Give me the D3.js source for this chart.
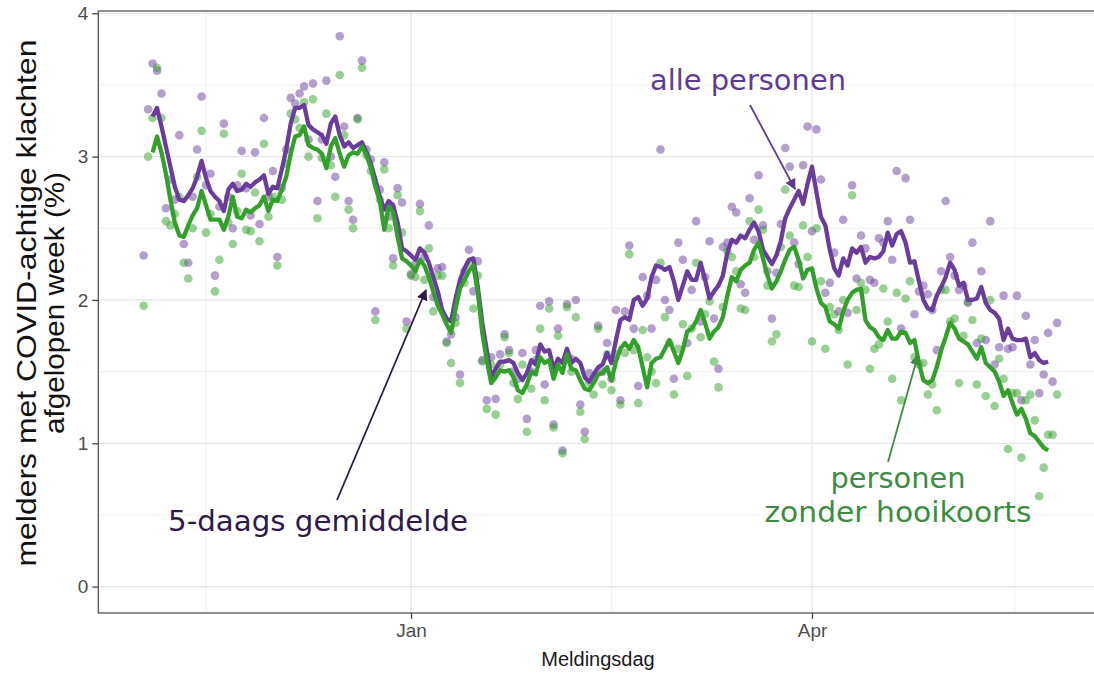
<!DOCTYPE html>
<html>
<head>
<meta charset="utf-8">
<script src="https://cdn.jsdelivr.net/npm/d3@7"></script>
<style>
  body { margin: 0; background: #fff; }
</style>
</head>
<body>
<div id="chart"></div>
<script>

// first day with data, one value per day after that
const startDate = Date.UTC(2020, 10, 2);

// daily values, all persons (purple)
const allePunten = [
  2.31, 3.33, 3.65, 3.60, 3.44, 2.64, 2.84, 2.70, 3.15, 2.39,
  2.26, 2.72, 3.05, 3.42, 2.80, 2.88, 2.17, 2.65, 3.23, 2.72,
  2.50, 2.80, 3.04, 2.78, 2.59, 3.03, 2.53, 3.27, 2.72, 2.90,
  2.30, 2.78, 3.05, 3.41, 3.37, 3.44, 3.49, 3.12, 3.51, 2.69,
  3.12, 3.53, 3.00, 2.86, 3.84, 3.21, 2.69, 2.56, 3.27, 3.67,
  3.05, 2.98, 1.92, 2.77, 2.96, 2.58, 2.29, 2.78, 2.68, 1.85,
  2.18, 2.25, 2.67, 2.30, 2.52, 2.02, 2.22, 2.23, 1.71, 1.76,
  1.88, 1.48, 2.20, 2.35, 2.06, 2.27, 1.58, 1.30, 1.60, 1.31,
  1.62, 1.76, 1.65, 1.50, 1.45, 1.63, 1.17, 1.50, 1.65, 1.96,
  1.41, 1.99, 1.13, 1.80, 0.95, 1.97, 1.59, 2.00, 1.27, 1.08,
  1.49, 1.45, 1.82, 1.50, 1.70, 1.45, 1.93, 1.30, 1.92, 2.38,
  1.80, 1.40, 2.16, 2.03, 1.80, 2.14, 3.05, 2.00, 1.93, 1.45,
  2.40, 2.28, 1.70, 2.07, 2.55, 1.85, 2.16, 2.41, 1.87, 1.52,
  2.37, 2.40, 2.65, 2.61, 2.11, 2.05, 2.71, 2.42, 2.87, 2.52,
  2.20, 1.87, 2.19, 2.53, 3.06, 2.93, 2.40, 2.25, 2.94, 3.21,
  2.48, 3.19, 2.84, 2.05, 2.12, 2.33, 1.92, 2.56, 1.91, 2.80,
  2.15, 2.45, 2.36, 2.14, 2.12, 2.43, 2.40, 2.55, 2.28, 2.90,
  1.80, 2.85, 2.56, 1.90, 2.06, 2.10, 2.04, 1.93, 1.65, 2.20,
  2.69, 2.30, 2.17, 2.07, 2.10, 1.98, 2.40, 1.70, 2.20, 1.72,
  2.55, 1.55, 1.67, 2.03, 1.66, 1.67, 2.03, 1.30, 1.89, 1.55,
  1.72, 1.35, 1.48, 1.77, 1.43, 1.84
];

// daily values, persons without hay fever (green)
const zonderPunten = [
  1.96, 3.00, 3.27, 3.62, 3.27, 2.55, 2.52, 2.60, 2.72, 2.26,
  2.15, 2.50, 2.86, 3.18, 2.47, 2.60, 2.06, 2.28, 3.16, 2.54,
  2.39, 2.62, 2.88, 2.49, 2.48, 2.75, 2.41, 3.09, 2.58, 2.72,
  2.24, 2.70, 2.95, 3.30, 3.26, 3.20, 3.38, 3.00, 3.40, 2.57,
  2.99, 3.30, 2.94, 2.72, 3.57, 3.15, 2.63, 2.50, 3.26, 3.62,
  3.01, 2.90, 1.86, 2.70, 2.91, 2.50, 2.24, 2.73, 2.47, 1.80,
  2.17, 2.16, 2.62, 2.14, 2.36, 1.92, 2.17, 2.17, 1.70, 1.56,
  1.84, 1.42, 2.12, 2.25, 1.94, 2.17, 1.57, 1.24, 1.55, 1.20,
  1.55, 1.74, 1.63, 1.42, 1.31, 1.55, 1.08, 1.38, 1.58, 1.80,
  1.30, 1.94, 1.11, 1.75, 0.93, 1.95, 1.50, 1.88, 1.22, 1.03,
  1.42, 1.34, 1.80, 1.41, 1.62, 1.37, 1.62, 1.27, 1.63, 2.32,
  1.65, 1.28, 1.79, 1.60, 1.50, 1.42, 2.26, 1.88, 1.70, 1.34,
  1.66, 1.83, 1.47, 1.80, 2.26, 1.74, 1.90, 1.99, 1.57, 1.39,
  1.95, 2.34, 2.30, 2.20, 1.94, 1.93, 2.55, 2.30, 2.63, 2.49,
  2.10, 1.71, 1.76, 2.37, 2.77, 2.45, 2.10, 2.09, 2.52, 2.30,
  1.71, 2.50, 2.13, 1.66, 1.95, 1.90, 1.79, 2.00, 1.55, 2.73,
  1.93, 2.12, 2.07, 1.52, 1.66, 1.69, 2.08, 1.85, 1.45, 2.05,
  1.30, 2.01, 2.13, 1.60, 1.55, 1.56, 1.34, 1.41, 1.23, 2.07,
  2.07, 1.85, 1.87, 1.42, 1.75, 1.99, 1.86, 1.41, 1.73, 1.33,
  2.00, 1.26, 1.59, 1.45, 0.96, 1.35, 1.35, 0.90, 1.30, 1.34,
  1.16, 0.63, 0.83, 1.06, 1.06, 1.34
];

// 5-day averages, centred, so they start on day index 2
const gemOffset = 2;
const alleGem = [
  3.28, 3.34, 3.21, 3.07, 2.93, 2.79, 2.70, 2.69, 2.73, 2.78,
  2.86, 2.97, 2.85, 2.76, 2.72, 2.69, 2.62, 2.77, 2.81, 2.76,
  2.77, 2.81, 2.79, 2.82, 2.84, 2.87, 2.74, 2.79, 2.78, 2.91,
  3.05, 3.23, 3.34, 3.34, 3.36, 3.22, 3.19, 3.17, 3.15, 3.09,
  3.23, 3.28, 3.15, 3.07, 3.10, 3.06, 3.08, 3.10, 3.03, 2.95,
  2.84, 2.72, 2.63, 2.69, 2.66, 2.54, 2.36, 2.34, 2.31, 2.28,
  2.36, 2.33, 2.26, 2.16, 2.06, 1.93, 1.87, 1.85, 2.01, 2.14,
  2.22, 2.28, 2.29, 2.09, 1.84, 1.65, 1.46, 1.52, 1.57, 1.57,
  1.58, 1.56, 1.49, 1.44, 1.49, 1.58, 1.55, 1.69, 1.64, 1.65,
  1.52, 1.59, 1.56, 1.66, 1.56, 1.59, 1.56, 1.46, 1.43, 1.48,
  1.53, 1.55, 1.63, 1.56, 1.72, 1.86, 1.88, 1.86, 2.00, 2.02,
  1.96, 2.01, 2.16, 2.24, 2.23, 2.21, 2.23, 2.13, 2.00, 2.10,
  2.20, 2.14, 2.14, 2.26, 2.14, 2.01, 2.06, 2.10, 2.17, 2.33,
  2.42, 2.40, 2.45, 2.43, 2.49, 2.54, 2.48, 2.35, 2.30, 2.25,
  2.31, 2.41, 2.57, 2.64, 2.70, 2.76, 2.67, 2.81, 2.93, 2.75,
  2.58, 2.52, 2.35, 2.22, 2.17, 2.29, 2.24, 2.36, 2.33, 2.37,
  2.26, 2.30, 2.29, 2.30, 2.34, 2.47, 2.38, 2.46, 2.48, 2.40,
  2.26, 2.27, 2.13, 2.00, 1.94, 1.93, 2.03, 2.09, 2.16, 2.26,
  2.21, 2.10, 2.12, 2.00, 2.00, 2.01, 2.09, 1.98, 1.93, 1.91,
  1.87, 1.72, 1.80, 1.73, 1.72, 1.72, 1.73, 1.60, 1.63, 1.58,
  1.56, 1.57
];
const zonderGem = [
  3.03, 3.14, 3.03, 2.88, 2.70, 2.54, 2.45, 2.44, 2.52, 2.59,
  2.64, 2.76, 2.66, 2.56, 2.56, 2.56, 2.49, 2.58, 2.72, 2.58,
  2.57, 2.63, 2.61, 2.64, 2.66, 2.72, 2.62, 2.70, 2.69, 2.77,
  2.86, 3.02, 3.14, 3.15, 3.21, 3.08, 3.06, 3.05, 3.02, 2.92,
  3.07, 3.13, 3.02, 2.93, 3.01, 3.03, 3.02, 3.07, 3.01, 2.92,
  2.79, 2.69, 2.49, 2.65, 2.61, 2.44, 2.29, 2.27, 2.24, 2.20,
  2.28, 2.24, 2.16, 2.06, 1.96, 1.90, 1.83, 1.77, 1.94, 2.08,
  2.14, 2.20, 2.24, 2.05, 1.77, 1.58, 1.42, 1.46, 1.51, 1.50,
  1.51, 1.46, 1.37, 1.35, 1.41, 1.50, 1.48, 1.60, 1.56, 1.58,
  1.45, 1.55, 1.49, 1.62, 1.52, 1.51, 1.44, 1.38, 1.37, 1.42,
  1.48, 1.49, 1.53, 1.44, 1.57, 1.66, 1.70, 1.66, 1.72, 1.67,
  1.53, 1.39, 1.56, 1.59, 1.60, 1.66, 1.72, 1.64, 1.56, 1.65,
  1.78, 1.80, 1.85, 1.93, 1.84, 1.73, 1.78, 1.81, 1.88, 2.03,
  2.16, 2.13, 2.21, 2.24, 2.26, 2.35, 2.40, 2.29, 2.17, 2.08,
  2.13, 2.20, 2.28, 2.35, 2.37, 2.28, 2.15, 2.21, 2.22, 2.08,
  1.98, 1.95, 1.85, 1.83, 1.80, 1.92, 2.00, 2.05, 2.07, 2.08,
  1.86, 1.81, 1.79, 1.74, 1.72, 1.79, 1.73, 1.73, 1.78, 1.77,
  1.70, 1.72, 1.56, 1.44, 1.42, 1.44, 1.53, 1.65, 1.74, 1.84,
  1.80, 1.73, 1.71, 1.69, 1.64, 1.59, 1.67, 1.56, 1.53, 1.50,
  1.43, 1.33, 1.37, 1.28, 1.20, 1.24, 1.17, 1.07, 1.05, 1.01,
  0.97, 0.95
];

// axis breaks
const yTicks = [0, 1, 2, 3, 4];
const xBreaks = [Date.UTC(2020, 9, 1), Date.UTC(2021, 0, 1), Date.UTC(2021, 3, 1), Date.UTC(2021, 6, 1)];
const xLabels = ["Oct", "Jan", "Apr", "Jul"];

const width = 1094;
const height = 674;
const panel = {left: 98.3, right: 1100, top: 11, bottom: 613};

const purple = "#6a3d9a";
const green = "#33a02c";

const svg = d3.select("#chart")
  .append("svg")
  .attr("width", width)
  .attr("height", height)
  .attr("viewBox", [0, 0, width, height])
  .style("font-family", "'Liberation Sans', Arial, sans-serif");

svg.append("rect").attr("width", width).attr("height", height).attr("fill", "#fff");

// x: Jan 1 and Apr 1 pinned to where they sit in the picture
const xScale = d3.scaleUtc()
  .domain([new Date(xBreaks[1]), new Date(xBreaks[2])])
  .range([411, 812]);

const yScale = d3.scaleLinear()
  .domain([0, 4])
  .range([586.6, 13.3]);

const day = (i) => d3.utcDay.offset(new Date(startDate), i);

svg.append("clipPath").attr("id", "clip")
  .append("rect")
  .attr("x", panel.left).attr("y", panel.top)
  .attr("width", panel.right - panel.left).attr("height", panel.bottom - panel.top);

const plot = svg.append("g").attr("clip-path", "url(#clip)");

// grid, minor first
const yMinor = d3.range(0.5, 4, 1);
const xMinor = d3.pairs(xBreaks).map(([a, b]) => new Date((a + b) / 2));

plot.selectAll(".yminor").data(yMinor).enter().append("line")
  .attr("x1", panel.left).attr("x2", panel.right)
  .attr("y1", d => yScale(d)).attr("y2", d => yScale(d))
  .attr("stroke", "#f0f0f0").attr("stroke-width", 1);

plot.selectAll(".xminor").data(xMinor).enter().append("line")
  .attr("x1", d => xScale(d)).attr("x2", d => xScale(d))
  .attr("y1", panel.top).attr("y2", panel.bottom)
  .attr("stroke", "#f0f0f0").attr("stroke-width", 1);

plot.selectAll(".ymajor").data(yTicks).enter().append("line")
  .attr("x1", panel.left).attr("x2", panel.right)
  .attr("y1", d => yScale(d)).attr("y2", d => yScale(d))
  .attr("stroke", "#e6e6e6").attr("stroke-width", 1.3);

plot.selectAll(".xmajor").data(xBreaks).enter().append("line")
  .attr("x1", d => xScale(new Date(d))).attr("x2", d => xScale(new Date(d)))
  .attr("y1", panel.top).attr("y2", panel.bottom)
  .attr("stroke", "#e6e6e6").attr("stroke-width", 1.3);

// points, then the 5-day lines on top
const pointSets = [
  {values: allePunten, color: purple},
  {values: zonderPunten, color: green}
];

pointSets.forEach(set => {
  plot.append("g")
    .selectAll("circle")
    .data(set.values)
    .enter()
    .append("circle")
      .attr("cx", (d, i) => xScale(day(i)))
      .attr("cy", d => yScale(d))
      .attr("r", 4.3)
      .attr("fill", set.color)
      .attr("fill-opacity", 0.5);
});

const line = d3.line()
  .x((d, i) => xScale(day(i + gemOffset)))
  .y(d => yScale(d));

[{values: alleGem, color: purple}, {values: zonderGem, color: green}].forEach(set => {
  plot.append("path")
    .datum(set.values)
    .attr("d", line)
    .attr("fill", "none")
    .attr("stroke", set.color)
    .attr("stroke-width", 4.3)
    .attr("stroke-linejoin", "round");
});

// panel border
svg.append("rect")
  .attr("x", panel.left).attr("y", panel.top)
  .attr("width", panel.right - panel.left).attr("height", panel.bottom - panel.top)
  .attr("fill", "none").attr("stroke", "#555").attr("stroke-width", 1.3);

// axes
const yAxis = svg.append("g")
  .attr("transform", `translate(${panel.left}, 0)`)
  .call(d3.axisLeft(yScale).tickValues(yTicks).tickSize(6).tickPadding(4).tickFormat(d3.format("d")));

const xAxis = svg.append("g")
  .attr("transform", `translate(0, ${panel.bottom})`)
  .call(d3.axisBottom(xScale)
    .tickValues(xBreaks.slice(1, 3).map(d => new Date(d)))
    .tickSize(6).tickPadding(5)
    .tickFormat((d) => xLabels[xBreaks.indexOf(+d)]));

[xAxis, yAxis].forEach(ax => {
  ax.select(".domain").remove();
  ax.selectAll(".tick line").attr("stroke", "#444").attr("stroke-width", 1.3);
  ax.selectAll(".tick text")
    .attr("fill", "#4d4d4d")
    .attr("font-size", 19)
    .attr("font-family", "'Liberation Sans', Arial, sans-serif");
});

// axis titles
svg.append("text")
  .attr("x", 598).attr("y", 666)
  .attr("text-anchor", "middle")
  .attr("font-size", 20)
  .attr("fill", "#1a1a1a")
  .text("Meldingsdag");

const yTitle = ["melders met COVID-achtige klachten", "afgelopen week (%)"];
const yTitleLen = [527, 262];
const yTitleBase = [36, 64];

yTitle.forEach((t, i) => {
  svg.append("text")
    .attr("transform", `translate(${yTitleBase[i]}, 303) rotate(-90)`)
    .attr("text-anchor", "middle")
    .attr("font-size", 28)
    .attr("fill", "#111")
    .attr("textLength", yTitleLen[i])
    .attr("lengthAdjust", "spacingAndGlyphs")
    .text(t);
});

// annotations
const defs = svg.append("defs");
const labelColor = {alle: "#5e3c8f", gem: "#2e1a47", zonder: "#3d8c40"};

Object.entries(labelColor).forEach(([k, c]) => {
  defs.append("marker")
    .attr("id", "arrow-" + k)
    .attr("viewBox", "0 0 10 10")
    .attr("refX", 9).attr("refY", 5)
    .attr("markerWidth", 11).attr("markerHeight", 11)
    .attr("markerUnits", "userSpaceOnUse")
    .attr("orient", "auto")
    .append("path")
      .attr("d", "M0,0 L10,5 L0,10 Z")
      .attr("fill", c);
});

const notes = [
  {key: "alle", lines: ["alle personen"], x: 748, y: [90], len: [196], from: [750, 105], to: [795, 189]},
  {key: "gem", lines: ["5-daags gemiddelde"], x: 318, y: [531], len: [300], from: [337, 500], to: [426, 290]},
  {key: "zonder", lines: ["personen", "zonder hooikoorts"], x: 898, y: [488, 522], len: [135, 267], from: [888, 462], to: [918, 355]}
];

notes.forEach(n => {
  svg.append("line")
    .attr("x1", n.from[0]).attr("y1", n.from[1])
    .attr("x2", n.to[0]).attr("y2", n.to[1])
    .attr("stroke", labelColor[n.key])
    .attr("stroke-width", 1.8)
    .attr("marker-end", `url(#arrow-${n.key})`);

  n.lines.forEach((t, i) => {
    svg.append("text")
      .attr("x", n.x).attr("y", n.y[i])
      .attr("text-anchor", "middle")
      .attr("font-family", "'DejaVu Sans', Verdana, sans-serif")
      .attr("font-size", 28)
      .attr("fill", labelColor[n.key])
      .attr("textLength", n.len[i])
      .attr("lengthAdjust", "spacingAndGlyphs")
      .text(t);
  });
});

</script>
</body>
</html>
